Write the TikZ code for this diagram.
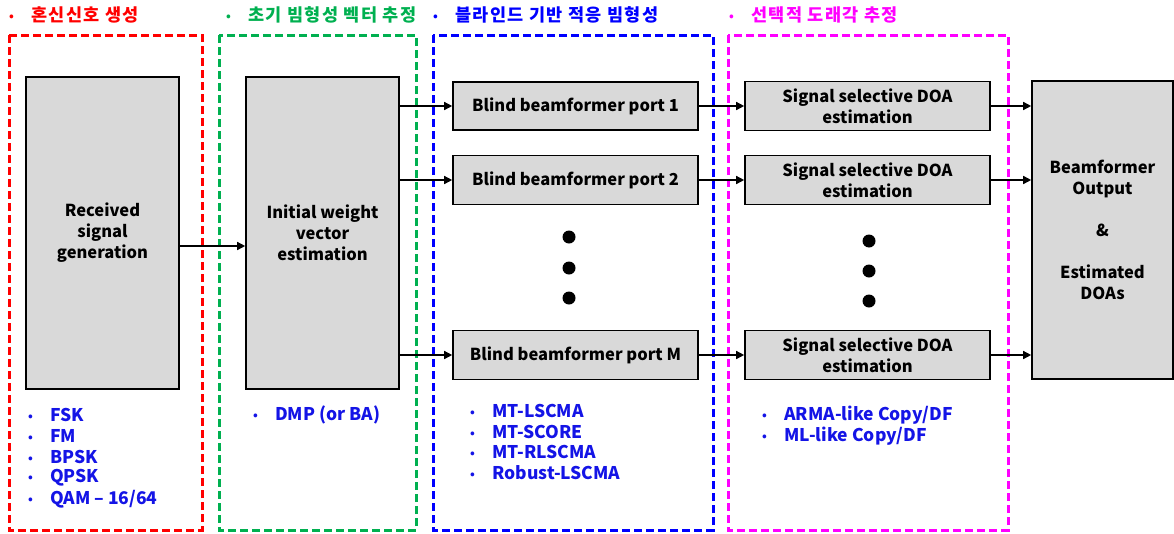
\documentclass[tikz,border=0pt]{standalone}
\usepackage{fontspec}
\setmainfont{Noto Sans CJK KR}
\usetikzlibrary{arrows.meta}
\definecolor{boxgray}{RGB}{217,217,217}
\definecolor{cred}{RGB}{255,0,0}
\definecolor{cgreen}{RGB}{0,176,80}
\definecolor{cblue}{RGB}{0,0,255}
\definecolor{cmag}{RGB}{255,0,255}
\definecolor{listblue}{RGB}{20,20,230}
\tikzset{
  blk/.style={draw=black, fill=boxgray, line width=1.6pt, inner sep=0pt, align=center},
  cont/.style={line width=3pt, dash pattern=on 8pt off 4pt},
  arr/.style={line width=1.4pt, -{Triangle[length=8pt,width=8pt]}},
  hdr/.style={anchor=west, inner sep=0pt, font=\bfseries\fontsize{17.5}{20}\selectfont\addfontfeature{LetterSpace=8}},
  itm/.style={anchor=west, inner sep=0pt, text=listblue, font=\bfseries\fontsize{17.5}{21}\selectfont},
  dotc/.style={circle, fill=black, inner sep=0pt, minimum size=13pt},
}
\newcommand{\bul}{\makebox[22pt][l]{\fontsize{12}{12}\selectfont\raisebox{1pt}{•}}}
\begin{document}
\begin{tikzpicture}[x=1pt,y=-1pt, font=\bfseries\fontsize{16.5}{21}\selectfont]
\useasboundingbox (0,0) rectangle (1174,533);
% containers
\draw[cont, cred] (9,35) rectangle (202,530);
\draw[cont, cgreen] (219,35) rectangle (416,530);
\draw[cont, cblue] (433,35) rectangle (713,530);
\draw[cont, cmag] (728,35) rectangle (1008,530);
% headers
\node[hdr, text=cred] (h1) at (9,15) {\bul 혼신신호 생성};
\node[hdr, text=cgreen] (h2) at (226,15) {\bul 초기 빔형성 벡터 추정};
\node[hdr, text=cblue] (h3) at (433,15) {\bul 블라인드 기반 적응 빔형성};
\node[hdr, text=cmag] (h4) at (729,15) {\bul 선택적 도래각 추정};
% main blocks
\node[blk, minimum width=153pt, minimum height=312pt] (rx) at (102.5,233) {Received\\signal\\generation};
\node[blk, minimum width=153pt, minimum height=312pt] (iw) at (322.5,233) {Initial weight\\vector\\estimation};
\node[blk, minimum width=245pt, minimum height=48pt] (bp1) at (575.5,106) {Blind beamformer port 1};
\node[blk, minimum width=245pt, minimum height=49pt] (bp2) at (575.5,180) {Blind beamformer port 2};
\node[blk, minimum width=245pt, minimum height=49pt] (bpm) at (575.5,355) {Blind beamformer port M};
\node[blk, minimum width=245pt, minimum height=49pt] (ss1) at (867.5,106) {Signal selective DOA\\estimation};
\node[blk, minimum width=245pt, minimum height=49pt] (ss2) at (867.5,180) {Signal selective DOA\\estimation};
\node[blk, minimum width=245pt, minimum height=49pt] (ssm) at (867.5,355) {Signal selective DOA\\estimation};
\node[blk, minimum width=141pt, minimum height=298pt] (out) at (1102.5,230) {Beamformer\\Output\\[21pt]\&\\[21pt]Estimated\\DOAs};
% dots
\node[dotc] (d1) at (569,237) {};
\node[dotc] (d2) at (569,268) {};
\node[dotc] (d3) at (569,298) {};
\node[dotc] (e1) at (869,241) {};
\node[dotc] (e2) at (869,271) {};
\node[dotc] (e3) at (869,301) {};
% arrows
\draw[arr] ([yshift=-13pt]rx.east) -- ([yshift=-13pt]iw.west);
\draw[arr] (iw.east |- bp1.west) -- (bp1.west);
\draw[arr] (iw.east |- bp2.west) -- (bp2.west);
\draw[arr] (iw.east |- bpm.west) -- (bpm.west);
\draw[arr] (bp1.east) -- (ss1.west);
\draw[arr] (bp2.east) -- (ss2.west);
\draw[arr] (bpm.east) -- (ssm.west);
\draw[arr] (ss1.east) -- (out.west |- ss1.east);
\draw[arr] (ss2.east) -- (out.west |- ss2.east);
\draw[arr] (ssm.east) -- (out.west |- ssm.east);
% lists
\node[itm] (r1) at (28,415) {\bul FSK};
\node[itm] (r2) at (28,436) {\bul FM};
\node[itm] (r3) at (28,457) {\bul BPSK};
\node[itm] (r4) at (28,478) {\bul QPSK};
\node[itm] (r5) at (28,499) {\bul QAM – 16/64};
\node[itm] (g1) at (253,415) {\bul DMP (or BA)};
\node[itm] (b1) at (470,411) {\bul MT-LSCMA};
\node[itm] (b2) at (470,432) {\bul MT-SCORE};
\node[itm] (b3) at (470,452) {\bul MT-RLSCMA};
\node[itm] (b4) at (470,473) {\bul Robust-LSCMA};
\node[itm] (m1) at (762,415) {\bul ARMA-like Copy/DF};
\node[itm] (m2) at (762,436) {\bul ML-like Copy/DF};
\end{tikzpicture}
\end{document}
